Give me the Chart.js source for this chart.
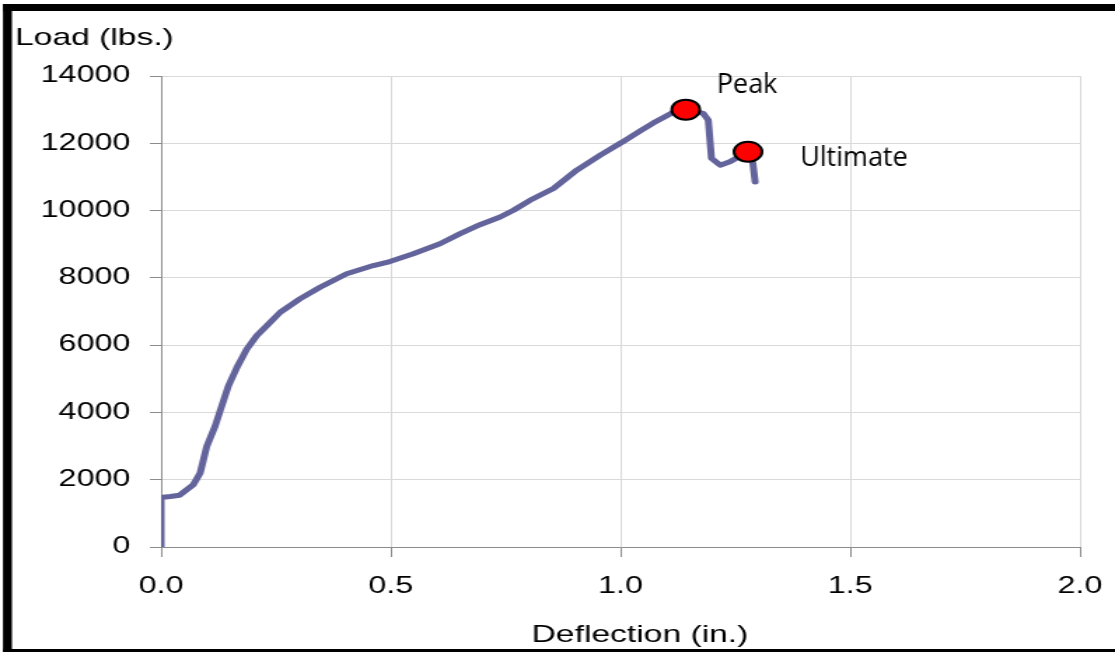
<!DOCTYPE html>
<html>
<head>
<meta charset="utf-8">
<script src="https://cdn.jsdelivr.net/npm/chart.js@4"></script>
<style>
    html, body { margin: 0; padding: 0; background: #fff; overflow: hidden; }
    /* the original picture is stretched sideways, so the chart is drawn narrow and widened */
    #wrap { width: 796px; height: 652px; transform: scaleX(1.4007); transform-origin: 0 0; }
</style>
</head>
<body>
<div id="wrap"><canvas id="loadChart" width="796" height="652"></canvas></div>
<script>
const STRETCH = 1115 / 796;

// Deflection (in.) and load (lbs.)
let deflection = [0, 0, 0.004, 0.02, 0.04, 0.07, 0.085, 0.0995, 0.1175, 0.132, 0.1465, 0.165, 0.1865,
    0.208, 0.23, 0.259, 0.302, 0.346, 0.404, 0.462, 0.498, 0.549, 0.607, 0.651, 0.694, 0.738, 0.767,
    0.803, 0.854, 0.905, 0.956, 1.003, 1.043, 1.071, 1.115, 1.142, 1.18, 1.191, 1.198, 1.217, 1.238,
    1.2775, 1.288, 1.293];
let load = [0, 1450, 1480, 1500, 1540, 1850, 2200, 2995, 3590, 4190, 4785, 5335, 5880,
    6280, 6575, 6975, 7375, 7720, 8120, 8365, 8485, 8715, 9015, 9315, 9580, 9810, 10010,
    10305, 10655, 11205, 11650, 12030, 12370, 12600, 12920, 13000, 12890, 12690, 11550, 11350, 11450,
    11750, 11410, 10850];

// Marked points
let markNames = ["Peak", "Ultimate"];
let markX = [1.142, 1.2775];
let markY = [13000, 11750];

let xTicks = [0, 0.5, 1.0, 1.5, 2.0];
let yTicks = [0, 2000, 4000, 6000, 8000, 10000, 12000, 14000];

// label offsets in screen pixels from each marker
let markOffsets = [{ dx: 31, dy: -17 }, { dx: 52, dy: 14 }];

const framePlugin = {
    id: "frame",
    beforeDraw(chart) {
        let ctx = chart.ctx;
        ctx.save();
        ctx.fillStyle = "#fff";
        ctx.fillRect(0, 0, chart.width, chart.height);
        ctx.restore();
    },
    afterDraw(chart) {
        let ctx = chart.ctx;
        ctx.save();
        ctx.fillStyle = "#000";
        ctx.fillRect(2.1, 4, 6.4, 648);
        ctx.fillRect(2.1, 4, chart.width, 7);
        ctx.fillRect(2.1, 649, chart.width, 3);

        // axis titles
        ctx.font = "24px 'Liberation Sans', Arial, sans-serif";
        ctx.textBaseline = "alphabetic";
        ctx.textAlign = "left";
        ctx.fillText("Load (lbs.)", 10.7, 45);
        ctx.textAlign = "center";
        ctx.fillText("Deflection (in.)", 640 / STRETCH, 642);

        // point names are not stretched in the original
        let xs = chart.scales.x, ys = chart.scales.y;
        ctx.textAlign = "left";
        ctx.scale(1 / STRETCH, 1);
        ctx.font = "27px 'Open Sans', sans-serif";
        for (let i = 0; i < markNames.length; i++) {
            let px = xs.getPixelForValue(markX[i]) * STRETCH;
            let py = ys.getPixelForValue(markY[i]);
            ctx.fillText(markNames[i], px + markOffsets[i].dx, py + markOffsets[i].dy);
        }
        ctx.restore();
    }
};

let ctx = document.getElementById("loadChart").getContext("2d");
let chart = new Chart(ctx, {
    type: "scatter",
    data: {
        datasets: [
            {
                label: "Marks",
                data: markX.map((x, i) => ({ x: x, y: markY[i] })),
                pointRadius: 10,
                pointBackgroundColor: "#ff0000",
                pointBorderColor: "#000",
                pointBorderWidth: 2,
                showLine: false,
                order: 0
            },
            {
                label: "Load",
                data: deflection.map((x, i) => ({ x: x, y: load[i] })),
                showLine: true,
                borderColor: "#64649c",
                borderWidth: 5,
                pointRadius: 0,
                tension: 0,
                borderJoinStyle: "round",
                borderCapStyle: "round",
                order: 1
            }
        ]
    },
    options: {
        responsive: false,
        animation: false,
        events: [],
        layout: { padding: { top: 76, right: 25, left: 0, bottom: 0 } },
        plugins: {
            legend: { display: false },
            tooltip: { enabled: false }
        },
        scales: {
            x: {
                type: "linear",
                min: 0,
                max: 2,
                afterBuildTicks: (scale) => { scale.ticks = xTicks.map(v => ({ value: v })); },
                afterFit: (scale) => {
                    scale.height = 105;
                    scale.paddingLeft = 0;
                    scale.paddingRight = 0;
                },
                ticks: {
                    color: "#000",
                    padding: 16,
                    maxRotation: 0,
                    font: { family: "'Liberation Sans', Arial, sans-serif", size: 23 },
                    callback: (v) => Number(v).toFixed(1)
                },
                grid: { color: "#d9d9d9", tickColor: "#8c8c8c", tickLength: 10 },
                border: { color: "#8c8c8c", width: 1 }
            },
            y: {
                min: 0,
                max: 14000,
                afterBuildTicks: (scale) => { scale.ticks = yTicks.map(v => ({ value: v })); },
                afterFit: (scale) => { scale.width = 115; },
                ticks: {
                    color: "#000",
                    padding: 14,
                    font: { family: "'Liberation Sans', Arial, sans-serif", size: 23 },
                    callback: (v) => String(v)
                },
                grid: { color: "#d9d9d9", tickColor: "#8c8c8c", tickLength: 8 },
                border: { color: "#8c8c8c", width: 1 }
            }
        }
    },
    plugins: [framePlugin]
});
</script>
</body>
</html>
